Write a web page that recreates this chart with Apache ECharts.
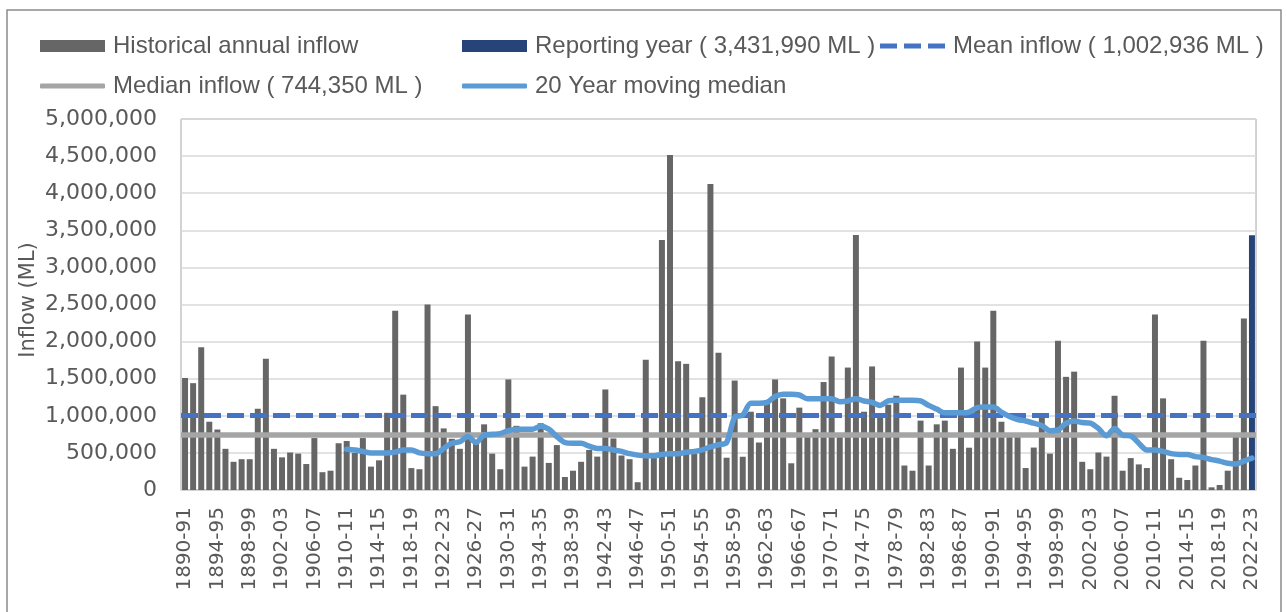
<!DOCTYPE html>
<html><head><meta charset="utf-8">
<script src="https://cdn.jsdelivr.net/npm/echarts@6/dist/echarts.min.js"></script>
<style>html,body{margin:0;padding:0;background:#fff}#c{width:1287px;height:612px}</style>
</head><body><div id="c"></div>
<script>
const categories = [
 "1890-91","1891-92","1892-93","1893-94","1894-95","1895-96","1896-97","1897-98","1898-99","1899-00",
 "1900-01","1901-02","1902-03","1903-04","1904-05","1905-06","1906-07","1907-08","1908-09","1909-10",
 "1910-11","1911-12","1912-13","1913-14","1914-15","1915-16","1916-17","1917-18","1918-19","1919-20",
 "1920-21","1921-22","1922-23","1923-24","1924-25","1925-26","1926-27","1927-28","1928-29","1929-30",
 "1930-31","1931-32","1932-33","1933-34","1934-35","1935-36","1936-37","1937-38","1938-39","1939-40",
 "1940-41","1941-42","1942-43","1943-44","1944-45","1945-46","1946-47","1947-48","1948-49","1949-50",
 "1950-51","1951-52","1952-53","1953-54","1954-55","1955-56","1956-57","1957-58","1958-59","1959-60",
 "1960-61","1961-62","1962-63","1963-64","1964-65","1965-66","1966-67","1967-68","1968-69","1969-70",
 "1970-71","1971-72","1972-73","1973-74","1974-75","1975-76","1976-77","1977-78","1978-79","1979-80",
 "1980-81","1981-82","1982-83","1983-84","1984-85","1985-86","1986-87","1987-88","1988-89","1989-90",
 "1990-91","1991-92","1992-93","1993-94","1994-95","1995-96","1996-97","1997-98","1998-99","1999-00",
 "2000-01","2001-02","2002-03","2003-04","2004-05","2005-06","2006-07","2007-08","2008-09","2009-10",
 "2010-11","2011-12","2012-13","2013-14","2014-15","2015-16","2016-17","2017-18","2018-19","2019-20",
 "2020-21","2021-22","2022-23"
];
// Historical annual inflow (ML), 1890-91 .. 2021-22
const historicalInflow = [
 1510000,1440000,1925000,920000,815000,555000,380000,415000,415000,1095000,
 1770000,555000,440000,505000,490000,350000,700000,240000,260000,630000,
 660000,500000,700000,315000,400000,1040000,2415000,1285000,295000,280000,
 2500000,1130000,830000,690000,555000,2365000,650000,885000,490000,280000,
 1490000,865000,315000,450000,900000,365000,605000,175000,260000,380000,
 540000,450000,1355000,695000,465000,415000,105000,1755000,450000,3370000,
 4515000,1735000,1700000,490000,1250000,4125000,1850000,435000,1475000,448000,
 1055000,640000,1210000,1490000,1235000,360000,1110000,720000,820000,1455000,
 1800000,720000,1650000,3435000,1055000,1665000,1000000,1150000,1270000,330000,
 260000,935000,330000,885000,935000,555000,1650000,570000,2000000,1650000,
 2415000,920000,750000,750000,296000,572000,975000,490000,2010000,1525000,
 1595000,380000,280000,505000,450000,1270000,260000,430000,345000,296000,
 2365000,1235000,415000,165000,135000,330000,2010000,36000,67000,260000,
 720000,2310000
];
const reportingYear = "2022-23";
const reportingYearInflow = 3431990;
const meanInflow = 1002936;
const medianInflow = 744350;
// 20 year moving median (ML)
const movingMedian = [
 null,null,null,null,null,null,null,null,null,null,
 null,null,null,null,null,null,null,null,null,null,
 550000,540000,520000,500000,500000,500000,510000,540000,540000,500000,
 490000,490000,560000,630000,650000,720000,640000,740000,750000,760000,
 800000,820000,820000,820000,860000,820000,720000,640000,630000,630000,
 590000,560000,560000,540000,520000,490000,470000,460000,460000,480000,
 490000,490000,510000,520000,540000,580000,610000,640000,980000,1010000,
 1170000,1170000,1180000,1260000,1290000,1290000,1280000,1230000,1230000,1230000,
 1230000,1190000,1200000,1230000,1200000,1180000,1140000,1200000,1210000,1210000,
 1210000,1200000,1140000,1090000,1040000,1040000,1040000,1050000,1110000,1120000,
 1120000,1050000,990000,950000,930000,900000,870000,800000,810000,900000,
 930000,910000,900000,830000,730000,830000,740000,730000,630000,540000,
 540000,520000,490000,480000,480000,450000,440000,410000,390000,360000,
 350000,390000,430000
];
const yMin = 0, yMax = 5000000, yStep = 500000;
const yTitle = 'Inflow (ML)';

const histData = categories.map((c, i) => c === reportingYear ? null : historicalInflow[i]);
const repData = categories.map(c => c === reportingYear ? reportingYearInflow : null);

const nameHist = "Historical annual inflow";
const nameRep = "Reporting year ( " + reportingYearInflow.toLocaleString('en-US') + " ML )";
const nameMean = "Mean inflow ( " + meanInflow.toLocaleString('en-US') + " ML )";
const nameMed = "Median inflow ( " + medianInflow.toLocaleString('en-US') + " ML )";
const nameMov = "20 Year moving median";

const txt = '#595959';
const legFont = {fontFamily: 'Liberation Sans', fontSize: 24, color: txt, padding: [0, 0, 0, 3]};
function leg(item, left, top, h) {
  return {data: [item], left: left, top: top, itemWidth: 65, itemHeight: h, padding: 0,
          selectedMode: false, textStyle: legFont};
}
const dashIcon = 'path://M0 0H17V5H0Z M24 0H41V5H24Z M48 0H65V5H48Z';

const chart = echarts.init(document.getElementById('c'), null, {renderer: 'canvas'});
chart.setOption({
  animation: false,
  backgroundColor: '#fff',
  graphic: [
    {type: 'rect', shape: {x: 7, y: 10, width: 1274, height: 700},
     style: {fill: 'none', stroke: '#8c8c8c', lineWidth: 1.5}, silent: true},
    {type: 'text', x: 29, y: 300, rotation: Math.PI / 2, silent: true,
     style: {text: yTitle, fill: txt, font: '21px "DejaVu Sans"', align: 'center', verticalAlign: 'middle'}}
  ],
  legend: [
    leg({name: nameHist, icon: 'rect'}, 40, 34, 12),
    leg({name: nameRep, icon: 'rect'}, 462, 34, 12),
    leg({name: nameMean, icon: dashIcon}, 880, 34, 5),
    leg({name: nameMed, icon: 'roundRect'}, 40, 74, 5),
    leg({name: nameMov, icon: 'roundRect'}, 462, 74, 5)
  ],
  grid: {left: 181, right: 31, top: 119, bottom: 122, show: true, borderColor: '#a6a6a6', borderWidth: 1,
         containLabel: false, outerBoundsMode: 'none'},
  xAxis: {
    type: 'category', data: categories, boundaryGap: true,
    axisLine: {lineStyle: {color: '#d0d0d0', width: 1.5}},
    axisTick: {show: false},
    axisLabel: {interval: 3, rotate: 90, margin: 17, color: txt, fontFamily: 'DejaVu Sans', fontSize: 20}
  },
  yAxis: {
    type: 'value', min: yMin, max: yMax, interval: yStep,
    axisLine: {show: false}, axisTick: {show: false},
    axisLabel: {margin: 24, color: txt, fontFamily: 'DejaVu Sans', fontSize: 22,
                formatter: v => v.toLocaleString('en-US')},
    splitLine: {lineStyle: {color: '#d9d9d9', width: 1.5}}
  },
  series: [
    {name: nameHist, type: 'bar', data: histData, itemStyle: {color: '#666666'},
     barCategoryGap: '26%', barGap: '-100%', z: 2},
    {name: nameRep, type: 'bar', data: repData, itemStyle: {color: '#264478'},
     barCategoryGap: '26%', barGap: '-100%', z: 2},
    {name: nameMean, type: 'line', data: [], symbol: 'none', z: 3,
     itemStyle: {color: '#4472C4'},
     lineStyle: {color: '#4472C4', width: 5},
     markLine: {silent: true, symbol: ['none', 'none'], label: {show: false},
       lineStyle: {color: '#4472C4', width: 5, type: [17, 6], cap: 'butt'},
       data: [{yAxis: meanInflow}]}},
    {name: nameMed, type: 'line', data: [], symbol: 'none', z: 4,
     itemStyle: {color: '#A5A5A5'},
     lineStyle: {color: '#A5A5A5', width: 5},
     markLine: {silent: true, symbol: ['none', 'none'], label: {show: false},
       lineStyle: {color: '#A5A5A5', width: 5.5, type: 'solid'},
       data: [{yAxis: medianInflow}]}},
    {name: nameMov, type: 'line', data: movingMedian, symbol: 'none', z: 5, smooth: 0.3,
     itemStyle: {color: '#5B9BD5'},
     lineStyle: {color: '#5B9BD5', width: 5.5, cap: 'round', join: 'round'}}
  ]
});
</script></body></html>
